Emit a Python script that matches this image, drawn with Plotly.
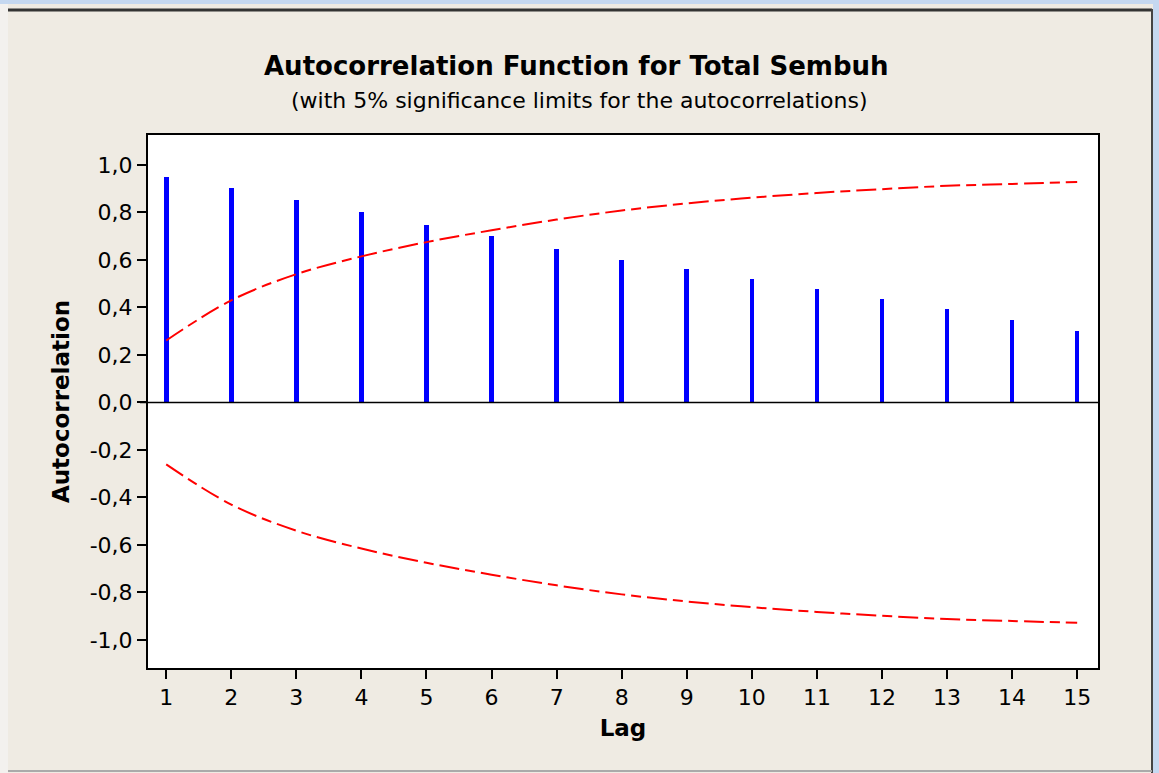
import plotly.graph_objects as go

lags = list(range(1, 16))
acf = [0.951, 0.901, 0.851, 0.800, 0.749, 0.699, 0.648, 0.598, 0.560, 0.518,
       0.476, 0.434, 0.392, 0.349, 0.299]
upper_limit = [0.261, 0.430, 0.540, 0.615, 0.675, 0.725, 0.770, 0.808, 0.838,
               0.862, 0.882, 0.898, 0.912, 0.920, 0.928]
lower_limit = [-v for v in upper_limit]
y_ticks = [-1.0, -0.8, -0.6, -0.4, -0.2, 0.0, 0.2, 0.4, 0.6, 0.8, 1.0]
y_tick_labels = [f"{v:.1f}".replace(".", ",") for v in y_ticks]

W, H = 1159, 773
L, R, T, B = 148, 1098, 135, 668

def px(x):
    return (x - L) / (R - L)

def py(y):
    return (B - y) / (B - T)

fig = go.Figure()
fig.add_trace(go.Bar(x=lags, y=acf, width=0.07, marker_color="#0000FF",
                     marker_line_width=0, showlegend=False))
dash = "20px,6px,10px,6px"
fig.add_trace(go.Scatter(x=lags, y=upper_limit, mode="lines",
                         line=dict(color="#FF0000", width=2, dash=dash, shape="spline"),
                         showlegend=False))
fig.add_trace(go.Scatter(x=lags, y=lower_limit, mode="lines",
                         line=dict(color="#FF0000", width=2, dash=dash, shape="spline"),
                         showlegend=False))

font = "Tahoma, DejaVu Sans, Verdana, sans-serif"
shapes = [
    dict(type="rect", xref="paper", yref="paper", x0=px(0), x1=px(8), y0=py(0), y1=py(H),
         fillcolor="#F3F1EE", line_width=0, layer="below"),
    dict(type="rect", xref="paper", yref="paper", x0=px(0), x1=px(W), y0=py(0), y1=py(4),
         fillcolor="#C5D8F0", line_width=0, layer="below"),
    dict(type="rect", xref="paper", yref="paper", x0=px(1153), x1=px(W), y0=py(0), y1=py(H),
         fillcolor="#C5D8F0", line_width=0, layer="below"),
    dict(type="line", xref="paper", yref="paper", x0=px(8), x1=px(1152), y0=py(10), y1=py(10),
         line=dict(color="#333333", width=3)),
    dict(type="line", xref="paper", yref="paper", x0=px(1152), x1=px(1152), y0=py(9), y1=py(H),
         line=dict(color="#444444", width=2)),
    dict(type="line", xref="paper", yref="paper", x0=px(8), x1=px(1152), y0=py(771), y1=py(771),
         line=dict(color="#AAAAAA", width=2)),
    # zero line
    dict(type="line", xref="paper", yref="y", x0=px(140), x1=1, y0=0, y1=0,
         line=dict(color="black", width=1.5)),
]

fig.update_layout(
    width=W, height=H,
    margin=dict(l=L, r=W - R, t=T, b=H - B, pad=0),
    paper_bgcolor="#EFEBE3",
    plot_bgcolor="white",
    bargap=0,
    font=dict(family=font, color="black", size=16),
    shapes=shapes,
    annotations=[
        dict(text="<b>Autocorrelation Function for Total Sembuh</b>", xref="paper", yref="paper",
             x=px(576), y=py(66), showarrow=False, font=dict(size=26, family=font),
             xanchor="center", yanchor="middle"),
        dict(text="(with 5% significance limits for the autocorrelations)", xref="paper",
             yref="paper", x=px(579), y=py(101), showarrow=False,
             font=dict(size=22, family=font), xanchor="center", yanchor="middle"),
    ],
    xaxis=dict(
        range=[0.72, 15.32], tickvals=lags, ticks="outside", ticklen=9, tickwidth=1.5,
        tickcolor="black", showgrid=False, zeroline=False, showline=True, linecolor="black",
        linewidth=2, mirror=True, tickfont=dict(size=22),
        title=dict(text="<b>Lag</b>", font=dict(size=23), standoff=10),
    ),
    yaxis=dict(
        range=[-1.118, 1.126], tickvals=y_ticks, ticktext=y_tick_labels, ticks="outside",
        ticklen=9, tickwidth=1.5, tickcolor="black", showgrid=False, zeroline=False,
        showline=True, linecolor="black", linewidth=2, mirror=True, tickfont=dict(size=22),
        title=dict(text="<b>Autocorrelation</b>", font=dict(size=23), standoff=14),
    ),
)

fig.write_html("out.html", config={"displayModeBar": False},
               post_script="document.body.style.margin='0';")
